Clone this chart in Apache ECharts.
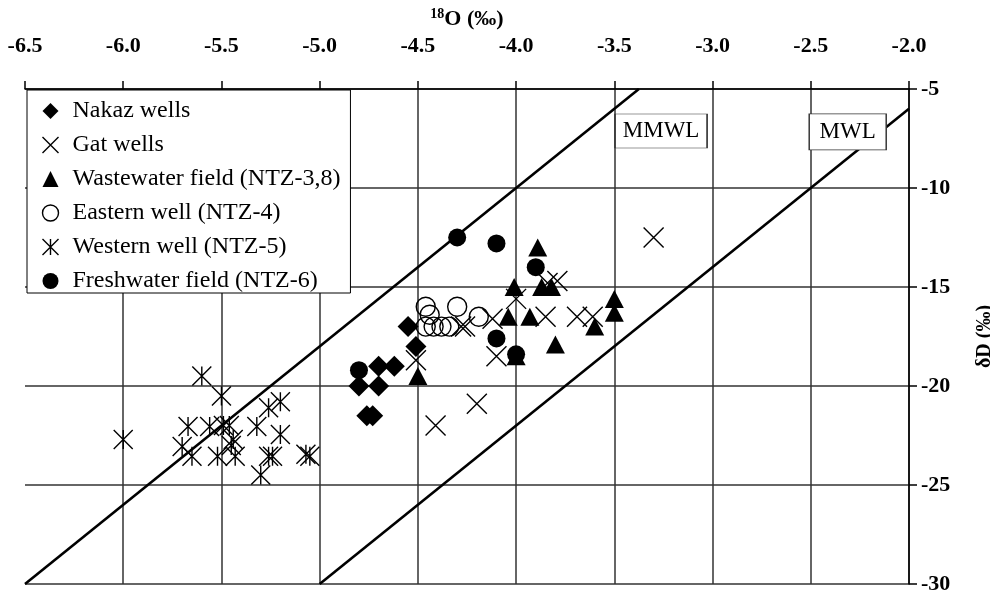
<!DOCTYPE html>
<html>
<head>
<meta charset="utf-8">
<script src="https://cdn.jsdelivr.net/npm/echarts@6/dist/echarts.min.js"></script>
<style>
html,body{margin:0;padding:0;background:#fff;}
#main{width:990px;height:595px;}
</style>
</head>
<body>
<div id="main"></div>
<script>
// ticks
var xTicks = [-6.5, -6.0, -5.5, -5.0, -4.5, -4.0, -3.5, -3.0, -2.5, -2.0];
var yTicks = [-30, -25, -20, -15, -10, -5];

// samples [d18O, dD]
var nakazWells = [[-4.55,-17.0],[-4.51,-18.0],[-4.70,-19.0],[-4.62,-19.0],[-4.80,-20.0],[-4.70,-20.0],[-4.76,-21.5],[-4.73,-21.5]];
var gatWells = [[-3.30,-12.5],[-3.84,-14.8],[-3.79,-14.7],[-4.00,-15.6],[-4.12,-16.6],[-3.85,-16.5],[-3.69,-16.5],[-3.61,-16.5],[-4.10,-18.5],[-4.20,-20.9],[-4.41,-22.0],[-4.51,-18.7],[-4.28,-17.0],[-4.26,-17.0]];
var wastewater = [[-4.50,-19.5],[-3.89,-13.0],[-4.01,-15.0],[-3.87,-15.0],[-3.82,-15.0],[-4.04,-16.5],[-3.93,-16.5],[-3.50,-15.6],[-3.50,-16.3],[-3.60,-17.0],[-3.80,-17.9],[-4.00,-18.5]];
var easternWell = [[-4.46,-16.0],[-4.30,-16.0],[-4.44,-16.4],[-4.19,-16.5],[-4.46,-17.0],[-4.42,-17.0],[-4.38,-17.0],[-4.34,-17.0]];
var westernWell = [[-5.60,-19.5],[-5.50,-20.5],[-6.00,-22.7],[-5.67,-22.05],[-5.56,-22.05],[-5.49,-22.0],[-5.46,-22.0],[-5.44,-22.7],[-5.45,-23.0],[-5.32,-22.05],[-5.26,-21.1],[-5.20,-20.8],[-5.20,-22.45],[-5.70,-23.05],[-5.65,-23.55],[-5.52,-23.55],[-5.43,-23.55],[-5.26,-23.55],[-5.24,-23.55],[-5.07,-23.45],[-5.05,-23.55],[-5.30,-24.5]];
var freshwater = [[-4.30,-12.5],[-4.10,-12.8],[-3.90,-14.0],[-4.10,-17.6],[-4.00,-18.4],[-4.80,-19.2]];

// meteoric water lines
var mmwlLine = [[-6.5,-30],[-3.375,-5]];
var mwlLine = [[-5.0,-30],[-2.0,-6]];
var lineLabels = [['MMWL', -3.262, -7.12], ['MWL', -2.312, -7.17]];

var serifFont = '"Liberation Serif","Times New Roman",serif';
var xPath = 'path://M0,0L20,20M20,0L0,20';
var starPath = 'path://M0,0L20,20M20,0L0,20M10,0L10,20';
var hollowStyle = {color: 'none', borderColor: '#000', borderWidth: 1.4, opacity: 1};

function scatter(name, data, symbol, size, hollow){
    return {
        name: name,
        type: 'scatter',
        data: data,
        symbol: symbol,
        symbolSize: size,
        symbolKeepAspect: true,
        itemStyle: hollow ? hollowStyle : {color: '#000', borderWidth: 0, opacity: 1},
        emphasis: {disabled: true}
    };
}

function waterLine(name, data, label){
    return {
        name: name,
        type: 'line',
        data: data,
        symbol: 'none',
        silent: true,
        lineStyle: {color: '#000', width: 2.6},
        markPoint: {
            symbol: 'rect',
            symbolSize: label[0] == 'MMWL' ? [92, 34] : [77, 36],
            silent: true,
            itemStyle: {color: '#fff', borderColor: '#333', borderWidth: 1},
            label: {show: true, position: 'inside', formatter: label[0], color: '#000', fontFamily: serifFont, fontSize: 23},
            data: [{coord: [label[1], label[2]]}]
        },
        z: 1
    };
}

var chart = echarts.init(document.getElementById('main'));
var option = {
    animation: false,
    backgroundColor: '#fff',
    grid: {left: 25, right: 81, top: 89, bottom: 11, outerBoundsMode: 'none', containLabel: false},
    legend: {
        orient: 'vertical',
        left: 27, top: 90,
        padding: [9, 10, 0, 13],
        itemWidth: 16, itemHeight: 16, itemGap: 10,
        backgroundColor: '#fff',
        borderColor: '#000', borderWidth: 1,
        textStyle: {fontFamily: serifFont, fontSize: 24, color: '#000', lineHeight: 24, padding: [0, 0, 0, 9]},
        data: [
            {name: 'Nakaz wells'},
            {name: 'Gat wells', itemStyle: hollowStyle},
            {name: 'Wastewater field (NTZ-3,8)'},
            {name: 'Eastern well (NTZ-4)', itemStyle: hollowStyle},
            {name: 'Western well (NTZ-5)', itemStyle: hollowStyle},
            {name: 'Freshwater field (NTZ-6)'}
        ],
        z: 10
    },
    xAxis: {
        type: 'value',
        position: 'top',
        min: xTicks[0], max: xTicks[xTicks.length - 1], interval: 0.5,
        name: '{sup|18}O (‰)',
        nameLocation: 'middle',
        nameGap: 56,
        nameTextStyle: {
            fontFamily: serifFont, fontSize: 22, fontWeight: 'bold', color: '#000',
            rich: {sup: {fontFamily: serifFont, fontSize: 14, fontWeight: 'bold', verticalAlign: 'top', padding: [0, 0, 10, 0]}}
        },
        axisLine: {show: true, onZero: false, lineStyle: {color: '#000', width: 1.5}},
        axisTick: {show: true, length: 8, lineStyle: {color: '#000', width: 1.5}},
        axisLabel: {
            margin: 32, fontFamily: serifFont, fontSize: 22, fontWeight: 'bold', color: '#000',
            formatter: function(v){ return v.toFixed(1); }
        },
        splitLine: {show: true, showMinLine: false, lineStyle: {color: '#333', width: 1.5}}
    },
    yAxis: {
        type: 'value',
        position: 'right',
        min: yTicks[0], max: yTicks[yTicks.length - 1], interval: 5,
        name: 'δD (‰)',
        nameLocation: 'middle',
        nameGap: 66,
        nameRotate: 90,
        nameTextStyle: {fontFamily: serifFont, fontSize: 20, fontWeight: 'bold', color: '#000'},
        axisLine: {show: true, onZero: false, lineStyle: {color: '#000', width: 1.5}},
        axisTick: {show: true, length: 8, lineStyle: {color: '#000', width: 1.5}},
        axisLabel: {margin: 12, fontFamily: serifFont, fontSize: 22, fontWeight: 'bold', color: '#000'},
        splitLine: {show: true, lineStyle: {color: '#333', width: 1.5}}
    },
    series: [
        waterLine('MMWL', mmwlLine, lineLabels[0]),
        waterLine('MWL', mwlLine, lineLabels[1]),
        scatter('Western well (NTZ-5)', westernWell, starPath, 19, true),
        scatter('Gat wells', gatWells, xPath, 20, true),
        scatter('Eastern well (NTZ-4)', easternWell, 'circle', 19, true),
        scatter('Wastewater field (NTZ-3,8)', wastewater, 'triangle', [19, 18], false),
        scatter('Nakaz wells', nakazWells, 'diamond', 21, false),
        scatter('Freshwater field (NTZ-6)', freshwater, 'circle', 18, false)
    ]
};
chart.setOption(option);
</script>
</body>
</html>
